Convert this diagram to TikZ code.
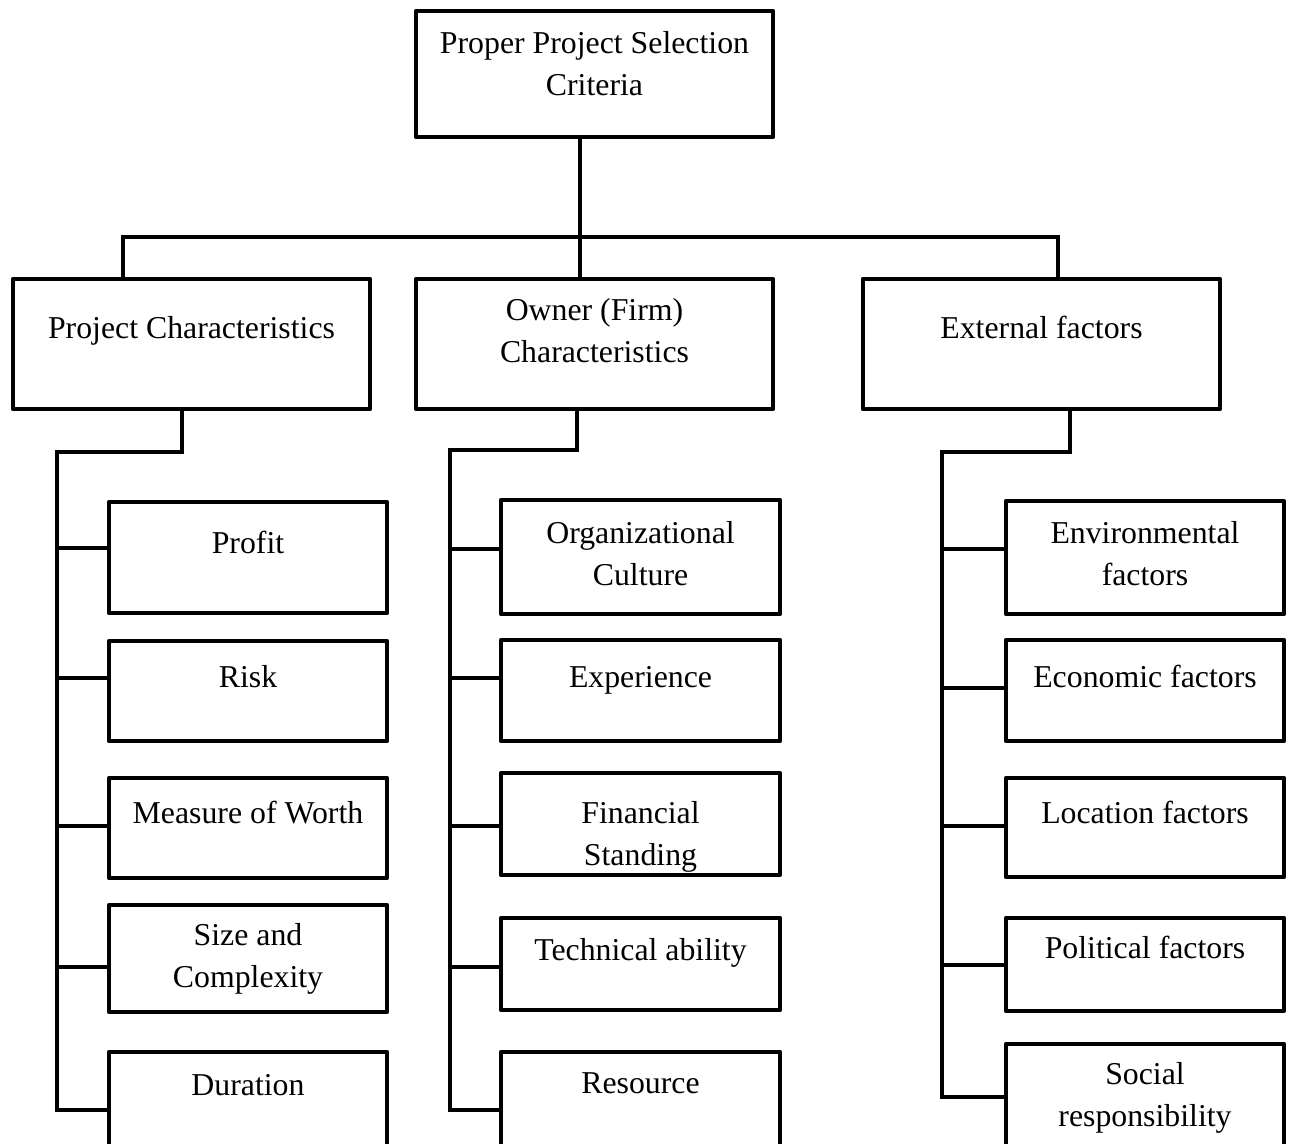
\documentclass[tikz,border=0pt]{standalone}
\usepackage{fontspec}
\setmainfont{Liberation Serif}
% a framed box given by its left, top, right and bottom line positions
\newcommand\critbox[5]{%
  \node[box, minimum width={(#4-#2)*0.75pt}, minimum height={(#5-#3)*0.75pt}]
    (#1) at ({(#2+#4)/2},{(#3+#5)/2}) {};}
\begin{document}
\begin{tikzpicture}[x=0.75pt,y=-0.75pt,
  box/.style={draw, line width=3.4pt, line join=round, inner sep=0pt, outer sep=0pt},
  conn/.style={line width=3.4pt},
  lbl/.style={font=\fontsize{23.85}{31.5}\selectfont, align=center, anchor=base, inner sep=0pt}]
\clip (0,0) rectangle (1293,1143);
\fill[white] (0,0) rectangle (1293,1143);

% root
\critbox{top}{416}{11}{773}{137}
% main groups
\critbox{pc}{13}{279}{370}{409}
\critbox{oc}{416}{279}{773}{409}
\critbox{ec}{863}{279}{1220}{409}
% project characteristics
\critbox{profit}{109}{502}{387}{613}
\critbox{risk}{109}{641}{387}{741}
\critbox{mow}{109}{778}{387}{878}
\critbox{size}{109}{905}{387}{1012}
\critbox{dur}{109}{1052}{387}{1170}
% owner characteristics
\critbox{org}{501}{500}{780}{614}
\critbox{exp}{501}{640}{780}{741}
\critbox{fin}{501}{773}{780}{875}
\critbox{tech}{501}{918}{780}{1010}
\critbox{res}{501}{1052}{780}{1170}
% external factors
\critbox{env}{1006}{501}{1284}{614}
\critbox{econ}{1006}{640}{1284}{741}
\critbox{loc}{1006}{778}{1284}{877}
\critbox{pol}{1006}{918}{1284}{1011}
\critbox{soc}{1006}{1044}{1284}{1170}

% labels (base anchor sits on the last line's baseline)
\node[lbl] (t-top)    at (top.north |- 0,95)     {Proper Project Selection\\Criteria};
\node[lbl] (t-pc)     at (pc.north |- 0,338)     {Project Characteristics};
\node[lbl] (t-oc)     at (oc.north |- 0,362)     {Owner (Firm)\\Characteristics};
\node[lbl] (t-ec)     at (ec.north |- 0,338)     {External factors};
\node[lbl] (t-profit) at (profit.north |- 0,553) {Profit};
\node[lbl] (t-risk)   at (risk.north |- 0,687)   {Risk};
\node[lbl] (t-mow)    at (mow.north |- 0,823)    {Measure of Worth};
\node[lbl] (t-size)   at (size.north |- 0,987)   {Size and\\Complexity};
\node[lbl] (t-dur)    at (dur.north |- 0,1095)   {Duration};
\node[lbl] (t-org)    at (org.north |- 0,585)    {Organizational\\Culture};
\node[lbl] (t-exp)    at (exp.north |- 0,687)    {Experience};
\node[lbl] (t-fin)    at (fin.north |- 0,865)    {Financial\\Standing};
\node[lbl] (t-tech)   at (tech.north |- 0,960)   {Technical ability};
\node[lbl] (t-res)    at (res.north |- 0,1093)   {Resource};
\node[lbl] (t-env)    at (env.north |- 0,585)    {Environmental\\factors};
\node[lbl] (t-econ)   at (econ.north |- 0,687)   {Economic factors};
\node[lbl] (t-loc)    at (loc.north |- 0,823)    {Location factors};
\node[lbl] (t-pol)    at (pol.north |- 0,958)    {Political factors};
\node[lbl] (t-soc)    at (soc.north |- 0,1126)   {Social\\responsibility};

% top level connectors
\coordinate (barL) at (123,237);
\coordinate (barM) at (580,237);
\coordinate (barR) at (1058,237);
\draw[conn] (top.south -| barM) -- (barM);
\draw[conn] (pc.north -| barL) |- (barR) -- (ec.north -| barR);
\draw[conn] (barM) -- (oc.north -| barM);

% project characteristics tree
\coordinate (lj) at (182,452);
\coordinate (lt) at (57,452);
\coordinate (lb) at (57,1110);
\draw[conn] (pc.south -| lj) -- (lj) -- (lt) -- (lb) -- (dur.west |- lb);
\foreach \n/\y in {profit/548, risk/678, mow/826, size/967}
  \draw[conn] (lt |- 0,\y) -- (\n.west |- 0,\y);

% owner characteristics tree
\coordinate (mj) at (577,450);
\coordinate (mt) at (450,450);
\coordinate (mb) at (450,1110);
\draw[conn] (oc.south -| mj) -- (mj) -- (mt) -- (mb) -- (res.west |- mb);
\foreach \n/\y in {org/549, exp/678, fin/826, tech/967}
  \draw[conn] (mt |- 0,\y) -- (\n.west |- 0,\y);

% external factors tree
\coordinate (rj) at (1070,452);
\coordinate (rt) at (942,452);
\coordinate (rb) at (942,1097);
\draw[conn] (ec.south -| rj) -- (rj) -- (rt) -- (rb) -- (soc.west |- rb);
\foreach \n/\y in {env/549, econ/688, loc/826, pol/965}
  \draw[conn] (rt |- 0,\y) -- (\n.west |- 0,\y);
\end{tikzpicture}
\end{document}
